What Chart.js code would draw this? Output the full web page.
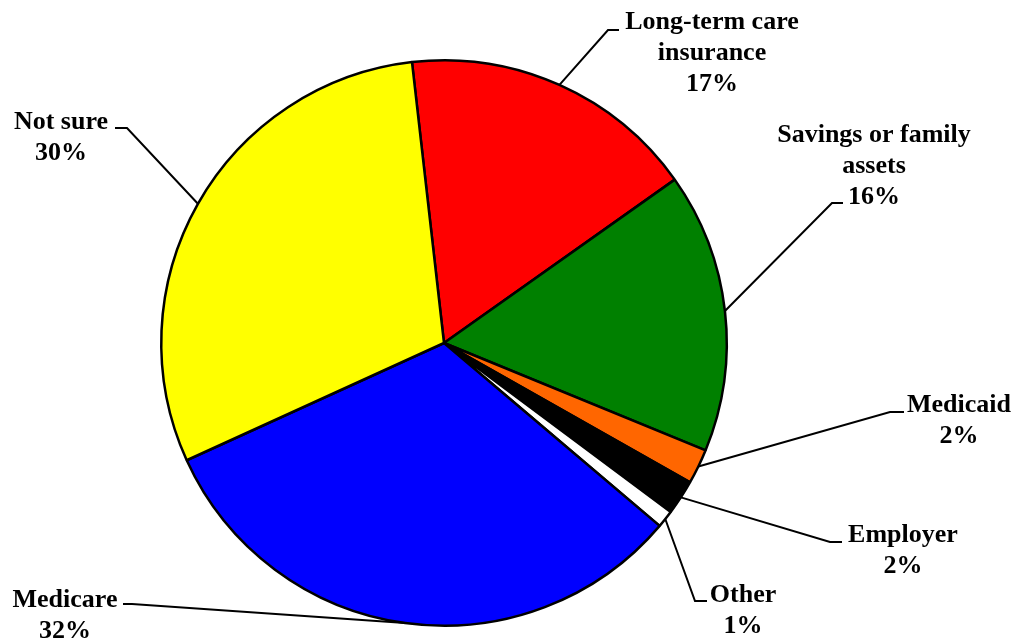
<!DOCTYPE html>
<html>
<head>
<meta charset="utf-8">
<script src="https://cdn.jsdelivr.net/npm/chart.js@4"></script>
<style>
  body { margin: 0; background: #fff; }
  canvas { display: block; }
</style>
</head>
<body>
<canvas id="pieChart" width="1017" height="642"></canvas>
<script>
// categories (line breaks as in the picture)
const categories = [
  'Long-term care\ninsurance',
  'Savings or family\nassets',
  'Medicaid',
  'Employer',
  'Other',
  'Medicare',
  'Not sure'
];
// shares in percent
const shares = [17, 16, 2, 2, 1, 32, 30];
const sliceColors = ['#FF0000', '#008000', '#FF6600', '#000000', '#FFFFFF', '#0000FF', '#FFFF00'];

// label placement relative to pie centre: elbow x/y, tick length, text centre x, first baseline
const labelLayout = [
  { ex: 164, ey: -313, tick: 11, tx: 268, ty: -314 },
  { ex: 388, ey: -140, tick: 11, tx: 430, ty: -201 },
  { ex: 446, ey: 69, tick: 14, tx: 515, ty: 69 },
  { ex: 386, ey: 199, tick: 12, tx: 459, ty: 199 },
  { ex: 251, ey: 258, tick: 12, tx: 299, ty: 259 },
  { ex: -312, ey: 261, tick: -9, tx: -379, ty: 264 },
  { ex: -317, ey: -215, tick: -12, tx: -383, ty: -214 }
];

const lineHeight = 31;

// labels with leader lines
const leaderLabels = {
  id: 'leaderLabels',
  afterDraw(chart) {
    const ctx = chart.ctx;
    const arcs = chart.getDatasetMeta(0).data;
    ctx.save();
    ctx.strokeStyle = '#000';
    ctx.lineWidth = 2;
    ctx.fillStyle = '#000';
    ctx.font = 'bold 26px "Liberation Serif", "Times New Roman", serif';
    ctx.textAlign = 'center';
    ctx.textBaseline = 'alphabetic';
    arcs.forEach((arc, i) => {
      const p = arc.getProps(['x', 'y', 'startAngle', 'endAngle', 'outerRadius'], true);
      const mid = (p.startAngle + p.endAngle) / 2;
      const sx = p.x + Math.cos(mid) * p.outerRadius;
      const sy = p.y + Math.sin(mid) * p.outerRadius;
      const l = labelLayout[i];
      const ex = p.x + l.ex, ey = p.y + l.ey;
      ctx.beginPath();
      ctx.moveTo(sx, sy);
      ctx.lineTo(ex, ey);
      ctx.lineTo(ex + l.tick, ey);
      ctx.stroke();
      const lines = categories[i].split('\n').concat([shares[i] + '%']);
      lines.forEach((t, j) => {
        ctx.fillText(t, p.x + l.tx, p.y + l.ty + j * lineHeight);
      });
    });
    ctx.restore();
  }
};

const ctx = document.getElementById('pieChart').getContext('2d');
new Chart(ctx, {
  type: 'pie',
  data: {
    labels: categories,
    datasets: [{
      data: shares,
      backgroundColor: sliceColors,
      borderColor: '#000',
      borderWidth: 2.5
    }]
  },
  options: {
    responsive: false,
    animation: false,
    rotation: -6.5,
    layout: {
      padding: { left: 160, right: 289, top: 59, bottom: 15 }
    },
    plugins: {
      legend: { display: false },
      tooltip: { enabled: false }
    }
  },
  plugins: [leaderLabels]
});
</script>
</body>
</html>
